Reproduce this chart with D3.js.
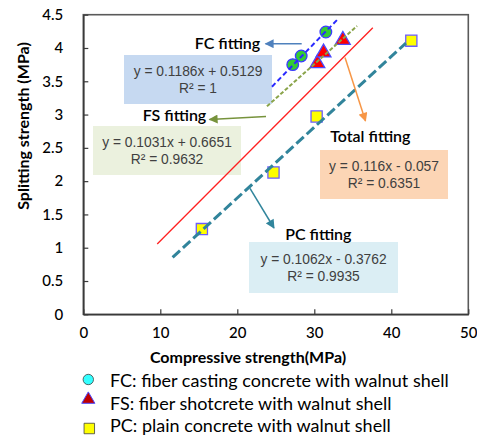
<!DOCTYPE html>
<html>
<head>
<meta charset="utf-8">
<script src="https://cdn.jsdelivr.net/npm/d3@7"></script>
<style>
  html, body { margin: 0; padding: 0; background: #fff; }
  svg { display: block; }
</style>
</head>
<body>
<svg id="chart" width="477" height="437"></svg>
<script>
// ---- data ----
const fcCompressive = [27.2, 28.3, 31.5];
const fcSplitting   = [3.75, 3.88, 4.24];
const fsCompressive = [30.4, 31.2, 33.7];
const fsSplitting   = [3.77, 3.93, 4.12];
const pcCompressive = [15.4, 24.7, 30.3, 42.6];
const pcSplitting   = [1.28, 2.13, 2.97, 4.11];

// trend lines: slope, intercept, x range covered
const fitNames      = ["FC", "FS", "Total", "PC"];
const fitSlopes     = [0.1186, 0.1031, 0.116, 0.1062];
const fitIntercepts = [0.5129, 0.6651, -0.057, -0.3762];
const fitR2         = ["1", "0.9632", "0.6351", "0.9935"];
const fitXStart     = [24.5, 23.85, 9.6, 11.6];
const fitXEnd       = [33.0, 35.55, 37.6, 41.9];

const xTicks = [0, 10, 20, 30, 40, 50];
const yTicks = [0, 0.5, 1, 1.5, 2, 2.5, 3, 3.5, 4, 4.5];

const legendLabels = [
  "FC: fiber casting concrete with walnut shell",
  "FS: fiber shotcrete with walnut shell",
  "PC: plain concrete with walnut shell"
];

// ---- layout ----
const svg = d3.select("#chart");
const plot = { left: 83.3, right: 468.3, top: 14.7, bottom: 314.3 };
const x = d3.scaleLinear().domain([0, 50]).range([plot.left, plot.right]);
const y = d3.scaleLinear().domain([0, 4.5]).range([plot.bottom, plot.top]);

const calibri = "Lato, 'Open Sans', sans-serif";
const arial = "'Liberation Sans', Arial, sans-serif";

// plot frame
svg.append("rect")
  .attr("x", plot.left).attr("y", plot.top)
  .attr("width", plot.right - plot.left).attr("height", plot.bottom - plot.top)
  .attr("fill", "none").attr("stroke", "#5a5a5a").attr("stroke-width", 1.6);

// axes with inward ticks
const xAxis = d3.axisBottom(x).tickValues(xTicks).tickSizeInner(-5).tickSizeOuter(0).tickPadding(13);
const yAxis = d3.axisLeft(y).tickValues(yTicks).tickSizeInner(-5).tickSizeOuter(0).tickPadding(20)
  .tickFormat(d3.format(""));

const gx = svg.append("g").attr("transform", `translate(0,${plot.bottom})`).call(xAxis);
const gy = svg.append("g").attr("transform", `translate(${plot.left},0)`).call(yAxis);
[gx, gy].forEach(g => {
  g.select(".domain").attr("stroke", "#3a3a3a").attr("stroke-width", 1.6);
  g.selectAll(".tick line").attr("stroke", "#3a3a3a").attr("stroke-width", 1.2);
  g.selectAll(".tick text").attr("fill", "#000").attr("font-family", calibri)
    .attr("font-size", 15).attr("font-weight", 500);
});

// axis titles
svg.append("text")
  .attr("x", 248).attr("y", 357).attr("dy", "0.35em")
  .attr("text-anchor", "middle")
  .attr("font-family", calibri).attr("font-size", 16).attr("font-weight", 700)
  .text("Compressive strength(MPa)");
svg.append("text")
  .attr("transform", "translate(23,126) rotate(-90)")
  .attr("dy", "0.35em")
  .attr("text-anchor", "middle")
  .attr("font-family", calibri).attr("font-size", 16).attr("font-weight", 700)
  .text("Splitting strength (MPa)");

// ---- annotation boxes with equations ----
const boxes = [
  { i: 0, x0: 124, y0: 55,  x1: 272, y1: 104, fill: "#c6d9f1" },
  { i: 1, x0: 93,  y0: 126, x1: 241, y1: 175, fill: "#ebf1de" },
  { i: 2, x0: 320, y0: 150, x1: 448, y1: 199, fill: "#fcd5b5" },
  { i: 3, x0: 249, y0: 242, x1: 398, y1: 293, fill: "#dbeef4" }
];
function eqText(i) {
  const m = fitSlopes[i], b = fitIntercepts[i];
  const sign = b < 0 ? "-" : "+";
  return `y = ${m}x ${sign} ${Math.abs(b)}`;
}
boxes.forEach(bx => {
  svg.append("rect")
    .attr("x", bx.x0).attr("y", bx.y0)
    .attr("width", bx.x1 - bx.x0).attr("height", bx.y1 - bx.y0)
    .attr("fill", bx.fill);
  const cx = (bx.x0 + bx.x1) / 2, cy = (bx.y0 + bx.y1) / 2;
  svg.append("text")
    .attr("x", cx).attr("y", cy - 8.5).attr("dy", "0.35em")
    .attr("text-anchor", "middle").attr("fill", "#404040")
    .attr("font-family", arial).attr("font-size", 13.8)
    .text(eqText(bx.i));
  svg.append("text")
    .attr("x", cx).attr("y", cy + 9).attr("dy", "0.35em")
    .attr("text-anchor", "middle").attr("fill", "#404040")
    .attr("font-family", arial).attr("font-size", 13.8)
    .text(`R² = ${fitR2[bx.i]}`);
});

// ---- markers ----
const fcPts = fcCompressive.map((v, k) => [v, fcSplitting[k]]);
const fsPts = fsCompressive.map((v, k) => [v, fsSplitting[k]]);
const pcPts = pcCompressive.map((v, k) => [v, pcSplitting[k]]);

svg.append("g").selectAll("path").data(pcPts).join("path")
  .attr("transform", d => `translate(${x(d[0])},${y(d[1])})`)
  .attr("d", d3.symbol(d3.symbolSquare, 125)())
  .attr("fill", "#ffff00").attr("stroke", "#6b5cff").attr("stroke-width", 1.3);

svg.append("g").selectAll("path").data(fsPts).join("path")
  .attr("transform", d => `translate(${x(d[0])},${y(d[1])})`)
  .attr("d", d3.symbol(d3.symbolTriangle, 95)())
  .attr("fill", "#ff0000").attr("stroke", "#4a4aff").attr("stroke-width", 1.3);

svg.append("g").selectAll("circle").data(fcPts).join("circle")
  .attr("cx", d => x(d[0])).attr("cy", d => y(d[1])).attr("r", 5.8)
  .attr("fill", "#33cc33").attr("stroke", "#3b3bff").attr("stroke-width", 1.3);

// ---- fitted lines ----
const lineStyles = [
  { color: "#2a2aff", width: 2,   dash: "5,3" },
  { color: "#8aa44a", width: 2,   dash: "4,2" },
  { color: "#ff2020", width: 1.3, dash: null },
  { color: "#31849b", width: 3,   dash: "10,4" }
];
const lineGen = d3.line().x(d => x(d[0])).y(d => y(d[1]));
fitNames.forEach((name, i) => {
  const pts = [fitXStart[i], fitXEnd[i]].map(v => [v, fitSlopes[i] * v + fitIntercepts[i]]);
  const st = lineStyles[i];
  svg.append("path")
    .attr("d", lineGen(pts))
    .attr("fill", "none").attr("stroke", st.color)
    .attr("stroke-width", st.width)
    .attr("stroke-dasharray", st.dash);
});

// ---- arrows and fitting labels ----
const defs = svg.append("defs");
function arrowMarker(id, color) {
  defs.append("marker")
    .attr("id", id).attr("viewBox", "0 0 10 10")
    .attr("refX", 9).attr("refY", 5)
    .attr("markerUnits", "userSpaceOnUse")
    .attr("markerWidth", 10).attr("markerHeight", 9)
    .attr("orient", "auto")
    .append("path").attr("d", "M0,0 L10,5 L0,10 Z").attr("fill", color);
}
const arrows = [
  { id: "arFC", color: "#4f81bd", from: [301.7, 43.7], to: [265.5, 43.7] },
  { id: "arFS", color: "#77933c", from: [266, 116.5], to: [209.5, 119.5] },
  { id: "arTot", color: "#f79646", from: [345, 57.5], to: [365.5, 121] },
  { id: "arPC", color: "#31859c", from: [250, 188.3], to: [274, 228] }
];
arrows.forEach(a => {
  arrowMarker(a.id, a.color);
  svg.append("line")
    .attr("x1", a.from[0]).attr("y1", a.from[1])
    .attr("x2", a.to[0]).attr("y2", a.to[1])
    .attr("stroke", a.color).attr("stroke-width", 1.5)
    .attr("marker-end", `url(#${a.id})`);
});

const fitLabels = [
  { text: "FC fitting",    x: 227.5, y: 43.5 },
  { text: "FS fitting",    x: 174.5, y: 115.5 },
  { text: "Total fitting", x: 370.3, y: 136.7 },
  { text: "PC fitting",    x: 318.3, y: 234 }
];
fitLabels.forEach(l => {
  svg.append("text")
    .attr("x", l.x).attr("y", l.y).attr("dy", "0.35em")
    .attr("text-anchor", "middle")
    .attr("font-family", calibri).attr("font-size", 16).attr("font-weight", 600)
    .attr("fill", "#000")
    .text(l.text);
});

// ---- legend ----
const legendY = [380.5, 403.5, 426];
const lg = svg.append("g");
lg.append("circle").attr("cx", 88.3).attr("cy", legendY[0] - 1).attr("r", 5.2)
  .attr("fill", "#33ffff").attr("stroke", "#404040").attr("stroke-width", 0.8);
lg.append("path").attr("transform", `translate(88.3,${legendY[1] - 4})`)
  .attr("d", d3.symbol(d3.symbolTriangle, 75)())
  .attr("fill", "#c00000").attr("stroke", "#4a4aff").attr("stroke-width", 1);
lg.append("path").attr("transform", `translate(89.3,${legendY[2] + 2.5})`)
  .attr("d", d3.symbol(d3.symbolSquare, 110)())
  .attr("fill", "#ffff00").attr("stroke", "#404040").attr("stroke-width", 0.8);
legendLabels.forEach((t, k) => {
  lg.append("text")
    .attr("x", 110).attr("y", legendY[k]).attr("dy", "0.35em")
    .attr("font-family", calibri).attr("font-size", 18)
    .attr("fill", "#000")
    .text(t);
});
</script>
</body>
</html>
